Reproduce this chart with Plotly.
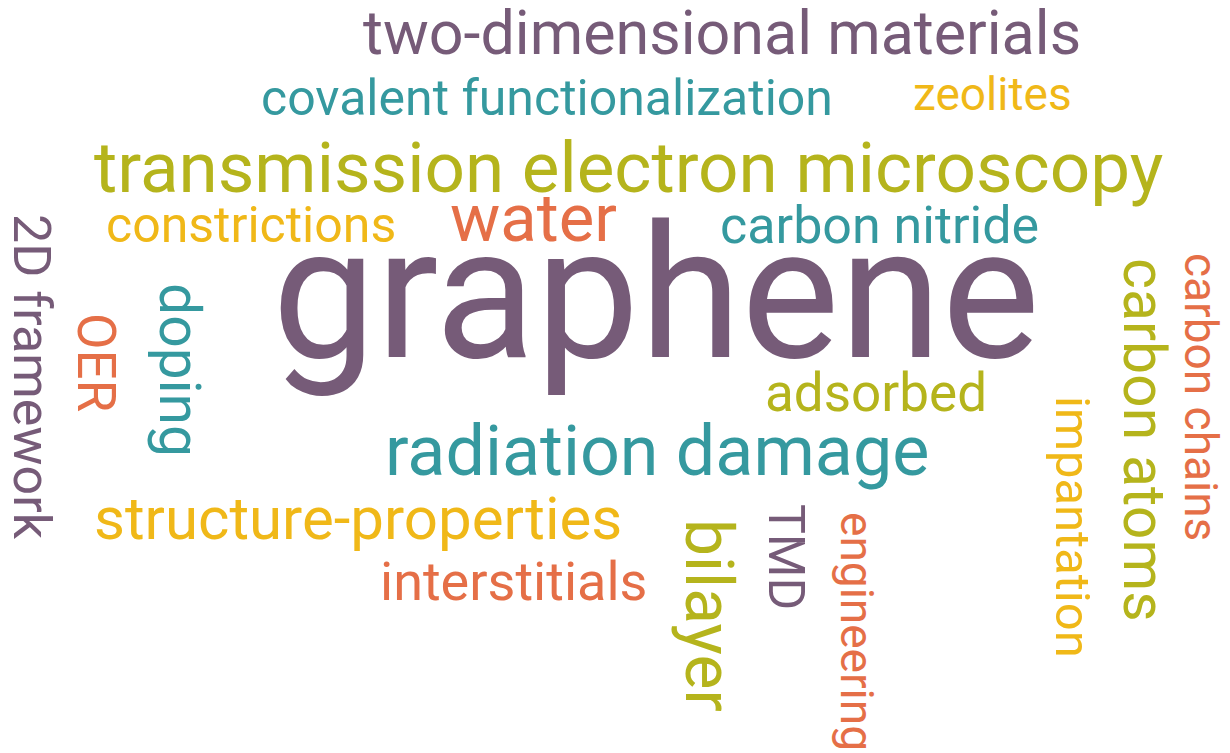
import plotly.graph_objects as go

# ---- data: words, weights (relative frequency), colour group ----
words = [
    "graphene", "transmission electron microscopy", "radiation damage",
    "water", "bilayer", "two-dimensional materials", "structure-properties",
    "carbon atoms", "doping", "interstitials", "OER", "carbon nitride",
    "2D framework", "adsorbed", "impantation", "TMD", "covalent functionalization",
    "constrictions", "engineering", "carbon chains", "zeolites",
]
weights = [185, 71, 70, 67, 66, 61, 60, 59, 57, 54, 53, 52, 52, 53, 49, 50, 50, 50, 46, 46, 46]
color_groups = [
    "purple", "olive", "teal", "orange", "olive", "purple", "yellow",
    "olive", "teal", "orange", "orange", "teal", "purple", "olive", "yellow",
    "purple", "teal", "yellow", "orange", "orange", "yellow",
]

# ---- layout of the cloud (pixel placement, rotation) ----
placement = {
    "graphene": (656, 293, 0),
    "transmission electron microscopy": (628, 167, 0),
    "radiation damage": (657, 451, 0),
    "water": (533, 218, 0),
    "bilayer": (709, 615, 90),
    "two-dimensional materials": (722, 33, 0),
    "structure-properties": (358, 518, 0),
    "carbon atoms": (1145, 440, 90),
    "doping": (180, 370, 90),
    "interstitials": (513, 581, 0),
    "OER": (96, 362, 90),
    "carbon nitride": (879, 225, 0),
    "2D framework": (32, 377, 90),
    "adsorbed": (876, 393, 0),
    "impantation": (1073, 527, 90),
    "TMD": (786, 557, 90),
    "covalent functionalization": (547, 98, 0),
    "constrictions": (251, 225, 0),
    "engineering": (857, 631, 90),
    "carbon chains": (1201, 397, 90),
    "zeolites": (992, 94, 0),
}
palette = {
    "purple": "#765b78",
    "teal": "#35999f",
    "olive": "#b5b41c",
    "orange": "#e56f47",
    "yellow": "#f0b818",
}
FONT = "Roboto"

W, H = 1230, 753
OFF = 8  # page body margin: map data coordinates to window pixels
fig = go.Figure()
fig.add_trace(go.Scatter(x=[0, W], y=[0, H], mode="markers",
                         marker=dict(opacity=0), hoverinfo="skip", showlegend=False))

for w, s, c in zip(words, weights, color_groups):
    x, y, ang = placement[w]
    fig.add_annotation(
        x=x, y=y, xref="x", yref="y", text=w, showarrow=False,
        xanchor="center", yanchor="middle", textangle=ang,
        font=dict(family=FONT, size=s, color=palette[c]),
    )

fig.update_layout(
    width=W, height=H, autosize=False,
    margin=dict(l=0, r=0, t=0, b=0),
    paper_bgcolor="white", plot_bgcolor="white",
    xaxis=dict(range=[OFF, W + OFF], visible=False, fixedrange=True),
    yaxis=dict(range=[H + OFF, OFF], visible=False, fixedrange=True),
)
fig.write_html("out.html")
